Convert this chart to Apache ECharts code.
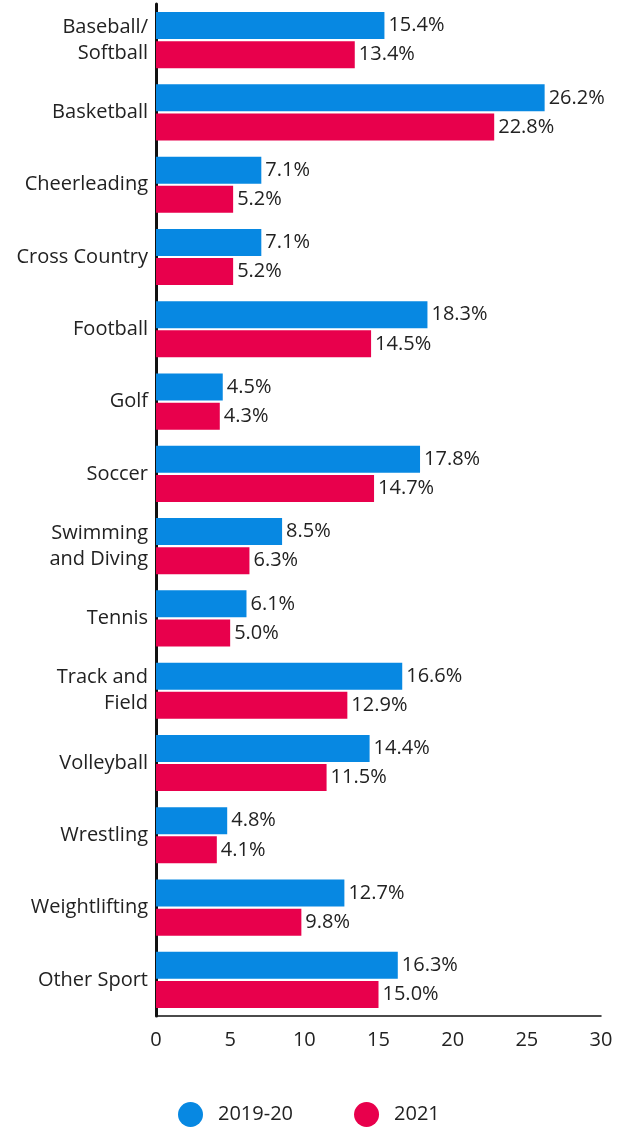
<!DOCTYPE html>
<html><head><meta charset="utf-8">
<script src="https://cdn.jsdelivr.net/npm/echarts@6/dist/echarts.min.js"></script>
<style>html,body{margin:0;padding:0;background:#fff}#c{width:627px;height:1129px}</style>
</head><body><div id="c"></div>
<script>
const categories = ["Baseball/\nSoftball","Basketball","Cheerleading","Cross Country","Football","Golf","Soccer","Swimming\nand Diving","Tennis","Track and\nField","Volleyball","Wrestling","Weightlifting","Other Sport"];
const s2019 = [15.4,26.2,7.1,7.1,18.3,4.5,17.8,8.5,6.1,16.6,14.4,4.8,12.7,16.3];
const s2021 = [13.4,22.8,5.2,5.2,14.5,4.3,14.7,6.3,5.0,12.9,11.5,4.1,9.8,15.0];
const seriesNames = ["2019-20","2021"];
const xTicks = [0,5,10,15,20,25,30];

const FONT = "'Open Sans', 'Noto Sans', sans-serif";
const chart = echarts.init(document.getElementById('c'));
const lbl = {show:true, position:'right', distance:4, color:'#222', fontSize:20, fontFamily:FONT,
  formatter: p => p.value.toFixed(1) + '%'};
chart.setOption({
  animation:false,
  grid:{left:156, right:26, top:4, bottom:113, containLabel:false},
  legend:{bottom:-3, left:173, itemWidth:25, itemHeight:25, itemGap:61, icon:'circle',
    textStyle:{fontSize:20, color:'#222', fontFamily:FONT, padding:[0,0,0,10]}, data:seriesNames},
  xAxis:{type:'value', min:xTicks[0], max:xTicks[xTicks.length-1], interval:5,
    axisLine:{show:true, lineStyle:{color:'#111', width:1.5}}, axisTick:{show:false}, splitLine:{show:false},
    axisLabel:{color:'#222', fontSize:20, fontFamily:FONT, margin:14}},
  yAxis:{type:'category', inverse:true, data:categories,
    axisLine:{show:true, lineStyle:{color:'#111', width:3}}, axisTick:{show:false},
    axisLabel:{color:'#222', fontSize:20, fontFamily:FONT, margin:8, lineHeight:26, align:'right'}},
  series:[
    {name:seriesNames[0], type:'bar', data:s2019, barWidth:27, barGap:'8%', itemStyle:{color:'#0788e2'}, label:lbl},
    {name:seriesNames[1], type:'bar', data:s2021, barWidth:27, barGap:'8%', itemStyle:{color:'#e8004c'}, label:lbl}
  ]
});
</script></body></html>
